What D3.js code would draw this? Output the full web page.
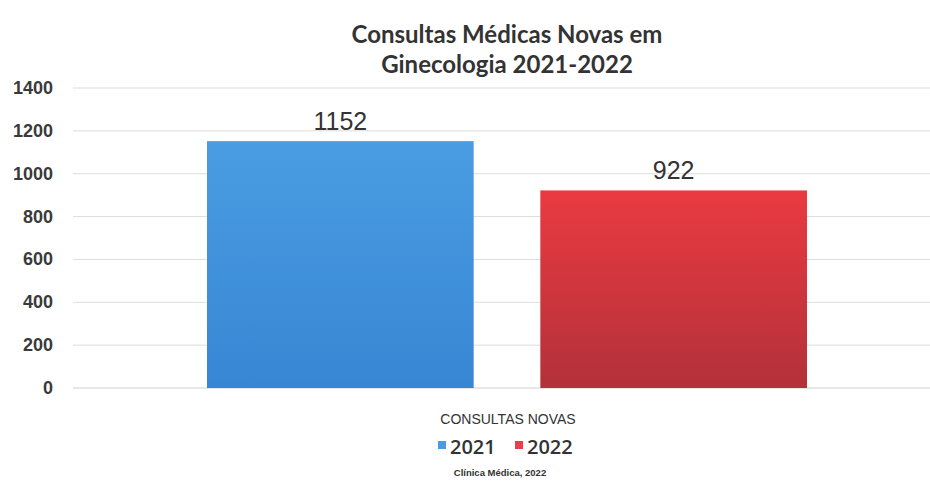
<!DOCTYPE html>
<html>
<head>
<meta charset="utf-8">
<script src="https://cdn.jsdelivr.net/npm/d3@7"></script>
<style>
  body { margin: 0; background: #fff; }
  svg { display: block; }
</style>
</head>
<body>
<svg id="chart" width="930" height="486"></svg>
<script>
const category = "CONSULTAS NOVAS";
const series = ["2021", "2022"];
const values = [1152, 922];
const yTicks = [0, 200, 400, 600, 800, 1000, 1200, 1400];
const titleLines = ["Consultas Médicas Novas em", "Ginecologia 2021-2022"];
const source = "Clínica Médica, 2022";

const svg = d3.select("#chart");
const margin = { top: 88, right: 0, bottom: 98, left: 73 };
const width = 930, height = 486;

const y = d3.scaleLinear().domain([0, 1400]).range([height - margin.bottom, margin.top]);
const x = d3.scaleBand().domain(series).range([207, 807]).paddingInner(0.2);

const defs = svg.append("defs");
const grads = [["g2021", "#4a9de2", "#3786d4"], ["g2022", "#ea3a41", "#b3313a"]];
grads.forEach(([id, top, bottom]) => {
  const g = defs.append("linearGradient").attr("id", id)
    .attr("x1", 0).attr("y1", 0).attr("x2", 0).attr("y2", 1);
  g.append("stop").attr("offset", "0%").attr("stop-color", top);
  g.append("stop").attr("offset", "100%").attr("stop-color", bottom);
});

// grid + y labels
svg.append("g")
  .selectAll("line")
  .data(yTicks)
  .join("line")
  .attr("x1", margin.left)
  .attr("x2", width)
  .attr("y1", d => y(d))
  .attr("y2", d => y(d))
  .attr("stroke", d => d === 0 ? "#cfcfcf" : "#dddddd")
  .attr("stroke-width", 1);

svg.append("g")
  .selectAll("text")
  .data(yTicks)
  .join("text")
  .attr("x", 53)
  .attr("y", d => y(d) + 6)
  .attr("text-anchor", "end")
  .attr("font-family", "Liberation Sans, Arial, sans-serif")
  .attr("font-weight", "bold")
  .attr("font-size", 18)
  .attr("fill", "#3a3a3a")
  .text(d => d);

// bars
svg.append("g")
  .selectAll("rect")
  .data(values)
  .join("rect")
  .attr("x", (d, i) => x(series[i]))
  .attr("width", x.bandwidth())
  .attr("y", d => y(d))
  .attr("height", d => y(0) - y(d))
  .attr("fill", (d, i) => `url(#g${series[i]})`);

svg.append("g")
  .selectAll("text")
  .data(values)
  .join("text")
  .attr("x", (d, i) => x(series[i]) + x.bandwidth() / 2)
  .attr("y", d => y(d) - 11)
  .attr("text-anchor", "middle")
  .attr("font-family", "Liberation Sans, Arial, sans-serif")
  .attr("font-size", 25)
  .attr("fill", "#333")
  .text(d => d);

// title
svg.append("text")
  .attr("text-anchor", "middle")
  .attr("font-family", "Lato, sans-serif")
  .attr("font-weight", "bold")
  .attr("font-size", 24)
  .attr("fill", "#333")
  .selectAll("tspan")
  .data(titleLines)
  .join("tspan")
  .attr("x", 507)
  .attr("y", (d, i) => 43 + i * 30)
  .text(d => d);

// legend
svg.append("text")
  .attr("x", 508)
  .attr("y", 424)
  .attr("text-anchor", "middle")
  .attr("font-family", "Liberation Sans, sans-serif")
  .attr("font-size", 14)
  .attr("fill", "#333")
  .text(category);

const legendColors = ["#4a9be0", "#e8404a"];
const legendX = [438, 515];
const leg = svg.append("g")
  .selectAll("g")
  .data(series)
  .join("g")
  .attr("transform", (d, i) => `translate(${legendX[i]},0)`);
leg.append("rect")
  .attr("x", 0).attr("y", 441)
  .attr("width", 8).attr("height", 8)
  .attr("fill", (d, i) => legendColors[i]);
leg.append("text")
  .attr("x", 12).attr("y", 454)
  .attr("font-family", "Open Sans, sans-serif")
  .attr("font-weight", 600)
  .attr("font-size", 20)
  .attr("fill", "#333")
  .text(d => d);

svg.append("text")
  .attr("x", 500)
  .attr("y", 476)
  .attr("text-anchor", "middle")
  .attr("font-family", "Liberation Sans, sans-serif")
  .attr("font-weight", "bold")
  .attr("font-size", 9.5)
  .attr("fill", "#333")
  .text(source);
</script>
</body>
</html>
